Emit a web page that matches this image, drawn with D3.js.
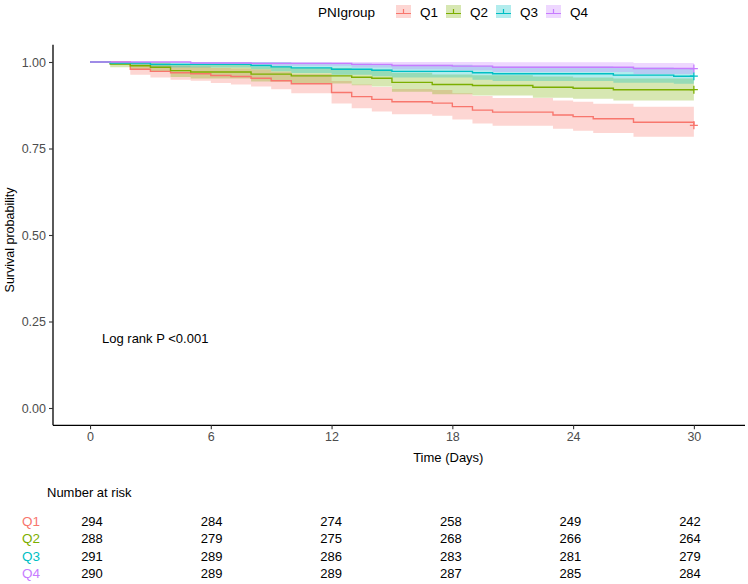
<!DOCTYPE html>
<html>
<head>
<meta charset="utf-8">
<script src="https://cdn.jsdelivr.net/npm/d3@7"></script>
<style>
  html, body { margin: 0; padding: 0; background: #fff; }
  svg { display: block; font-family: "Liberation Sans", Arial, sans-serif; }
</style>
</head>
<body>
<svg id="chart" width="748" height="584"></svg>
<script>
// ---------------- DATA ----------------
const groups = ["Q1", "Q2", "Q3", "Q4"];
const colors = ["#F8766D", "#7CAE00", "#00BFC4", "#C77CFF"];

const q1Time  = [0, 2, 3, 4, 5, 6, 7, 8, 9, 10, 12, 13, 14, 15, 17, 18, 19, 20, 23, 24, 25, 27, 30];
const q1Surv  = [1, 0.979, 0.973, 0.969, 0.966, 0.961, 0.958, 0.953, 0.946, 0.937, 0.912, 0.900, 0.892, 0.885, 0.881, 0.871, 0.861, 0.855, 0.847, 0.842, 0.836, 0.826, 0.817];
const q1Lower = [1, 0.963, 0.955, 0.949, 0.946, 0.939, 0.935, 0.929, 0.921, 0.910, 0.880, 0.866, 0.857, 0.849, 0.845, 0.834, 0.822, 0.816, 0.807, 0.801, 0.795, 0.784, 0.774];
const q1Upper = [1, 0.996, 0.992, 0.989, 0.987, 0.983, 0.981, 0.978, 0.972, 0.965, 0.945, 0.935, 0.928, 0.922, 0.919, 0.910, 0.902, 0.896, 0.889, 0.885, 0.879, 0.871, 0.862];

const q2Time  = [0, 1, 2, 3, 4, 5, 8, 10, 13, 14, 15, 17, 19, 22, 24, 26];
const q2Surv  = [1, 0.994, 0.989, 0.985, 0.975, 0.971, 0.965, 0.960, 0.956, 0.953, 0.941, 0.935, 0.932, 0.927, 0.924, 0.920];
const q2Lower = [1, 0.985, 0.977, 0.971, 0.957, 0.952, 0.944, 0.938, 0.933, 0.929, 0.914, 0.907, 0.903, 0.897, 0.894, 0.889];
const q2Upper = [1, 1, 1, 0.999, 0.993, 0.991, 0.987, 0.983, 0.980, 0.978, 0.969, 0.964, 0.962, 0.958, 0.955, 0.952];

const q3Time  = [0, 1, 3, 8, 9, 10, 12, 14, 15, 19, 20, 26, 29];
const q3Surv  = [1, 0.997, 0.993, 0.990, 0.986, 0.983, 0.979, 0.976, 0.973, 0.969, 0.966, 0.962, 0.959];
const q3Lower = [1, 0.991, 0.984, 0.979, 0.973, 0.968, 0.963, 0.959, 0.955, 0.949, 0.945, 0.940, 0.937];
const q3Upper = [1, 1, 1, 1, 1, 0.998, 0.996, 0.994, 0.992, 0.989, 0.987, 0.984, 0.982];

const q4Time  = [0, 5, 8, 13, 15, 18, 20, 27];
const q4Surv  = [1, 0.997, 0.996, 0.993, 0.990, 0.988, 0.985, 0.981];
const q4Lower = [1, 0.991, 0.989, 0.984, 0.979, 0.976, 0.971, 0.965];
const q4Upper = [1, 1, 1, 1, 1, 1, 0.999, 0.997];

const censorTime = 30;

const xTicks = [0, 6, 12, 18, 24, 30];
const yTicks = [0, 0.25, 0.5, 0.75, 1];
const yTickLabels = ["0.00", "0.25", "0.50", "0.75", "1.00"];

const riskTimes = [0, 6, 12, 18, 24, 30];
const riskQ1 = [294, 284, 274, 258, 249, 242];
const riskQ2 = [288, 279, 275, 268, 266, 264];
const riskQ3 = [291, 289, 286, 283, 281, 279];
const riskQ4 = [290, 289, 289, 287, 285, 284];

const legendTitle = "PNIgroup";
const xTitle = "Time (Days)";
const yTitle = "Survival probability";
const pvalText = "Log rank P <0.001";
const riskTitle = "Number at risk";

// ---------------- BUILD ----------------
const seriesList = [
  {time: q1Time, surv: q1Surv, lower: q1Lower, upper: q1Upper},
  {time: q2Time, surv: q2Surv, lower: q2Lower, upper: q2Upper},
  {time: q3Time, surv: q3Surv, lower: q3Lower, upper: q3Upper},
  {time: q4Time, surv: q4Surv, lower: q4Lower, upper: q4Upper}
].map((s, i) => {
  const pts = s.time.map((t, j) => ({t, s: s.surv[j], lo: s.lower[j], hi: s.upper[j]}));
  const last = pts[pts.length - 1];
  if (last.t < censorTime) pts.push({t: censorTime, s: last.s, lo: last.lo, hi: last.hi});
  return {name: groups[i], color: colors[i], pts, risk: [riskQ1, riskQ2, riskQ3, riskQ4][i]};
});

const svg = d3.select("#chart");

const x = d3.scaleLinear().domain([-1.84, 32.54]).range([53, 745]);
const y = d3.scaleLinear().domain([-0.05, 1.05]).range([425.3, 44.7]);

// bands
const area = d3.area()
  .curve(d3.curveStepAfter)
  .x(d => x(d.t)).y0(d => y(d.lo)).y1(d => y(d.hi));
svg.append("g").selectAll("path").data(seriesList).join("path")
  .attr("d", d => area(d.pts))
  .attr("fill", d => d.color)
  .attr("fill-opacity", 0.3)
  .attr("stroke", "none");

// lines
const line = d3.line().curve(d3.curveStepAfter).x(d => x(d.t)).y(d => y(d.s));
svg.append("g").selectAll("path").data(seriesList).join("path")
  .attr("d", d => line(d.pts))
  .attr("fill", "none")
  .attr("stroke", d => d.color)
  .attr("stroke-width", 1.4);

// censor marks
const cm = svg.append("g");
seriesList.forEach(s => {
  const last = s.pts[s.pts.length - 1];
  const cx = x(censorTime), cy = y(last.s);
  cm.append("path")
    .attr("d", `M${cx - 4},${cy}H${cx + 4}M${cx},${cy - 4}V${cy + 4}`)
    .attr("stroke", s.color).attr("stroke-width", 1.3).attr("fill", "none");
});

// axes
const xAxis = svg.append("g").attr("transform", `translate(0,${y(-0.05)})`)
  .call(d3.axisBottom(x).tickValues(xTicks).tickSize(4).tickPadding(3).tickFormat(d3.format("d")));
xAxis.select(".domain").attr("stroke", "#000").attr("stroke-width", 1.3).attr("d", `M${x(-1.84)},0H${x(32.54)}`);
xAxis.selectAll(".tick line").attr("stroke", "#333").attr("stroke-width", 1.1);
xAxis.selectAll(".tick text").attr("fill", "#4D4D4D").attr("font-size", 12.5).attr("font-family", "Liberation Sans, Arial, sans-serif");

const yAxis = svg.append("g").attr("transform", `translate(${x(-1.84)},0)`)
  .call(d3.axisLeft(y).tickValues(yTicks).tickSize(4).tickPadding(3).tickFormat((d, i) => yTickLabels[i]));
yAxis.select(".domain").attr("stroke", "#000").attr("stroke-width", 1.3).attr("d", `M0,${y(1.05)}V${y(-0.05)}`);
yAxis.selectAll(".tick line").attr("stroke", "#333").attr("stroke-width", 1.1);
yAxis.selectAll(".tick text").attr("fill", "#4D4D4D").attr("font-size", 12.5).attr("font-family", "Liberation Sans, Arial, sans-serif");

// titles
svg.append("text").attr("x", x(17.8)).attr("y", 462).attr("text-anchor", "middle")
  .attr("font-size", 13).attr("fill", "#000").text(xTitle);
svg.append("text").attr("transform", `translate(14,240) rotate(-90)`).attr("text-anchor", "middle")
  .attr("font-size", 12.5).attr("fill", "#000").text(yTitle);
svg.append("text").attr("x", 102).attr("y", 343).attr("font-size", 13).attr("fill", "#000").text(pvalText);

// legend
const lg = svg.append("g");
lg.append("text").attr("x", 318).attr("y", 17).attr("font-size", 13.5).attr("fill", "#000").text(legendTitle);
const keyX = [396, 446, 496, 546];
seriesList.forEach((s, i) => {
  const kx = keyX[i];
  lg.append("rect").attr("x", kx).attr("y", 5).attr("width", 15).attr("height", 13)
    .attr("fill", s.color).attr("fill-opacity", 0.3);
  lg.append("path").attr("d", `M${kx},${13.5}H${kx + 15}M${kx + 7.5},${9}V${13.5}`)
    .attr("stroke", s.color).attr("stroke-width", 1.2).attr("fill", "none");
  lg.append("text").attr("x", kx + 24).attr("y", 17).attr("font-size", 13.5).attr("fill", "#000").text(s.name);
});

// risk table
const xr = d3.scaleLinear().domain([0, 30]).range([92, 690]);
svg.append("text").attr("x", 47).attr("y", 497).attr("font-size", 13).attr("fill", "#000").text(riskTitle);
const rowY = [525.5, 543, 560.5, 577.5];
seriesList.forEach((s, i) => {
  svg.append("text").attr("x", 22).attr("y", rowY[i]).attr("font-size", 13.5).attr("fill", s.color).text(s.name);
  svg.append("g").selectAll("text").data(riskTimes).join("text")
    .attr("x", d => xr(d)).attr("y", rowY[i]).attr("text-anchor", "middle")
    .attr("font-size", 13).attr("fill", "#000").text((d, j) => s.risk[j]);
});
</script>
</body>
</html>
